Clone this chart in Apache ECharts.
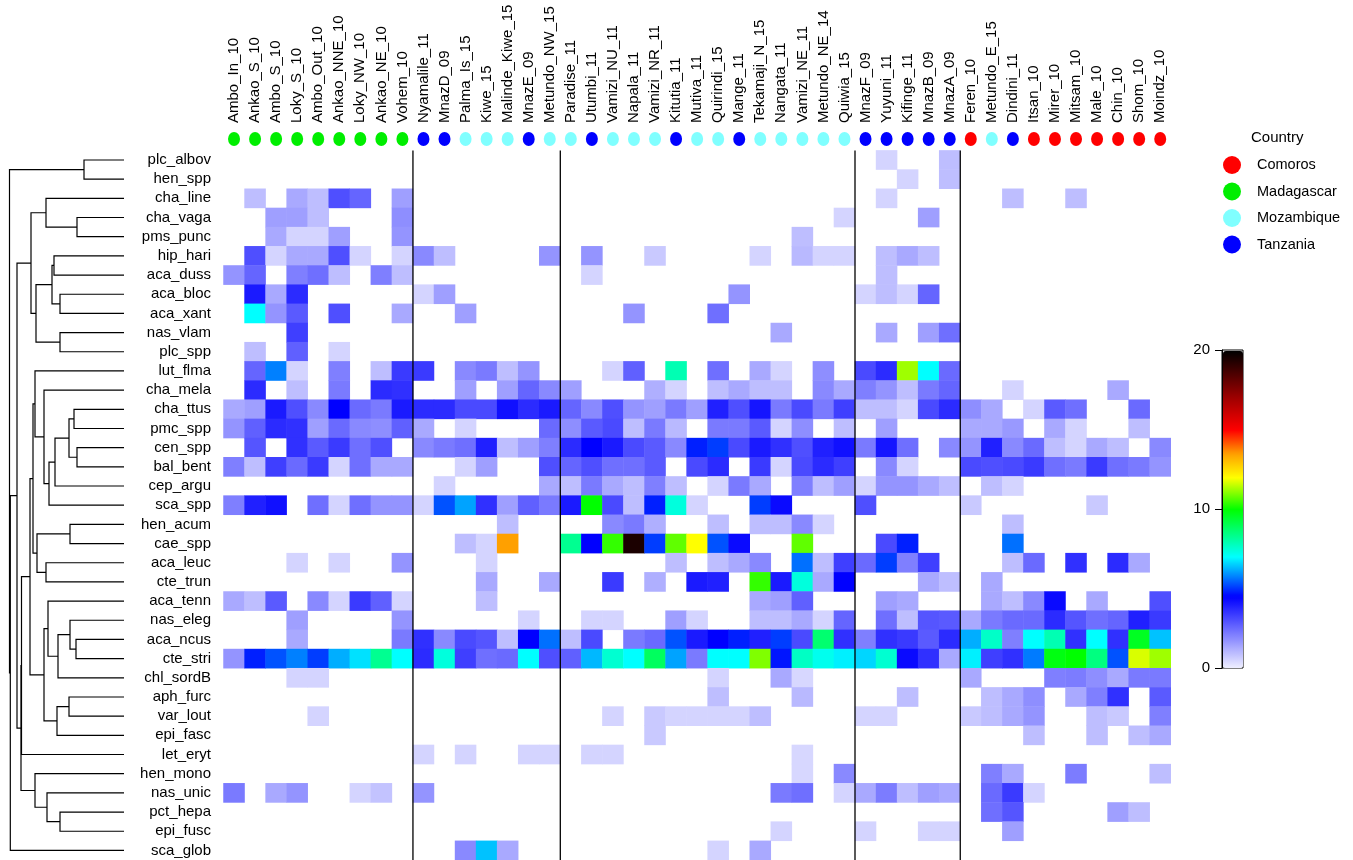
<!DOCTYPE html>
<html>
<head>
<meta charset="utf-8">
<script src="https://cdn.jsdelivr.net/npm/echarts@6/dist/echarts.min.js"></script>
<style>
html, body { margin: 0; padding: 0; background: #fff; }
#chart { width: 1353px; height: 860px; }
</style>
</head>
<body>
<div id="chart"></div>
<script>
// sites (columns) and the country of each
const sites = ['Ambo_In_10','Ankao_S_10','Ambo_S_10','Loky_S_10','Ambo_Out_10','Ankao_NNE_10','Loky_NW_10','Ankao_NE_10','Vohem_10',
  'Nyamalile_11','MnazD_09','Palma_Is_15','Kiwe_15','Malinde_Kiwe_15','MnazE_09','Metundo_NW_15',
  'Paradise_11','Utumbi_11','Vamizi_NU_11','Napala_11','Vamizi_NR_11','Kitutia_11','Mutiva_11','Quirindi_15','Mange_11','Tekamaji_N_15','Nangata_11','Vamizi_NE_11','Metundo_NE_14','Quiwia_15',
  'MnazF_09','Yuyuni_11','Kifinge_11','MnazB_09','MnazA_09','Feren_10','Metundo_E_15','Dindini_11','Itsan_10','Mirer_10','Mitsam_10','Male_10','Chin_10','Shom_10','Moindz_10'];
const siteCountry = ['MD','MD','MD','MD','MD','MD','MD','MD','MD',
  'TZ','TZ','MZ','MZ','MZ','TZ','MZ',
  'MZ','TZ','MZ','MZ','MZ','TZ','MZ','MZ','TZ','MZ','MZ','MZ','MZ','MZ',
  'TZ','TZ','TZ','TZ','TZ','KM','MZ','TZ','KM','KM','KM','KM','KM','KM','KM'];
const countryCodes = ['KM','MD','MZ','TZ'];
const countryNames = ['Comoros','Madagascar','Mozambique','Tanzania'];
const countryColors = ['#ff0000','#00ee00','#80ffff','#0000ff'];
// vertical separators after these column counts
const groupBreaks = [9, 16, 30, 35];

const species = ['plc_albov','hen_spp','cha_line','cha_vaga','pms_punc','hip_hari','aca_duss','aca_bloc','aca_xant','nas_vlam','plc_spp',
  'lut_flma','cha_mela','cha_ttus','pmc_spp','cen_spp','bal_bent','cep_argu','sca_spp','hen_acum','cae_spp','aca_leuc','cte_trun',
  'aca_tenn','nas_eleg','aca_ncus','cte_stri','chl_sordB','aph_furc','var_lout','epi_fasc','let_eryt','hen_mono','nas_unic','pct_hepa','epi_fusc','sca_glob'];

// one row per species, one value per site (0 = empty cell)
const values = [
  [0,0,0,0,0,0,0,0,0, 0,0,0,0,0,0,0, 0,0,0,0,0,0,0,0,0,0,0,0,0,0, 0,0.5,0,0,0.9,0,0,0,0,0,0,0,0,0,0],
  [0,0,0,0,0,0,0,0,0, 0,0,0,0,0,0,0, 0,0,0,0,0,0,0,0,0,0,0,0,0,0, 0,0,0.5,0,0.9,0,0,0,0,0,0,0,0,0,0],
  [0,0.9,0,1.3,0.9,3,2.6,0,1.5, 0,0,0,0,0,0,0, 0,0,0,0,0,0,0,0,0,0,0,0,0,0, 0,0.5,0,0,0,0,0,0.9,0,0,0.9,0,0,0,0],
  [0,0,1.5,1.5,0.9,0,0,0,1.8, 0,0,0,0,0,0,0, 0,0,0,0,0,0,0,0,0,0,0,0,0,0.5, 0,0,0,1.5,0,0,0,0,0,0,0,0,0,0,0],
  [0,0,1.3,0.5,0.5,1.5,0,0,1.7, 0,0,0,0,0,0,0, 0,0,0,0,0,0,0,0,0,0,0,0.9,0,0, 0,0,0,0,0,0,0,0,0,0,0,0,0,0,0],
  [0,3,0.5,1.3,1.3,3,0.5,0,0.5, 1.9,0.9,0,0,0,0,1.7, 0,1.7,0,0,0.7,0,0,0,0,0.5,0,1,0.5,0.5, 0,0.9,1.3,0.9,0,0,0,0,0,0,0,0,0,0,0],
  [1.7,2.6,0,2.1,2.4,0.9,0,2.1,0.9, 0,0,0,0,0,0,0, 0,0.5,0,0,0,0,0,0,0,0,0,0,0,0, 0,0.9,0,0,0,0,0,0,0,0,0,0,0,0,0],
  [0,4,1.3,3.7,0,0,0,0,0, 0.5,1.5,0,0,0,0,0, 0,0,0,0,0,0,0,0,1.7,0,0,0,0,0, 0.5,0.9,0.5,2.6,0,0,0,0,0,0,0,0,0,0,0],
  [0,7,1.7,2.8,0,3,0,0,1.3, 0,0,1.5,0,0,0,0, 0,0,0,1.7,0,0,0,2.4,0,0,0,0,0,0, 0,0,0,0,0,0,0,0,0,0,0,0,0,0,0],
  [0,0,0,3.3,0,0,0,0,0, 0,0,0,0,0,0,0, 0,0,0,0,0,0,0,0,0,0,1.3,0,0,0, 0,1.3,0,1.5,2.4,0,0,0,0,0,0,0,0,0,0],
  [0,0.9,0,2.7,0,0.5,0,0,0, 0,0,0,0,0,0,0, 0,0,0,0,0,0,0,0,0,0,0,0,0,0, 0,0,0,0,0,0,0,0,0,0,0,0,0,0,0],
  [0,2.6,5.75,0.5,0,2.1,0,0.9,3.4, 3.4,0,1.9,2.2,0.9,1.7,0, 0,0,0.5,2.7,0,7.9,0,2.4,0,1.3,0.5,0,1.8,0, 3.1,3.7,11.25,7,2.5,0,0,0,0,0,0,0,0,0,0],
  [0,3.7,0,0.9,0,2.2,0,3.7,3.6, 0,0,1.5,0,1.5,2.6,1.9, 1.5,0,0,0,1.2,0.5,0,0.9,1.3,0.9,0.9,0,1.9,1.3, 2.1,1.7,0.9,2.2,2.6,0,0,0.5,0,0,0,0,1.3,0,0],
  [1.3,1.5,4,3,1.9,4.5,2.5,2.2,4, 3.7,3.7,3.1,3.1,4.2,3.7,4, 2.6,1.9,3,1.7,1.5,2.2,1.5,3.9,3,4.1,2.2,3.1,2.2,3.3, 0.9,0.9,0.5,3.1,3.7,1.8,1.3,0,0.5,2.8,2.4,0,0,2.5,0],
  [1.7,2.7,3.7,3.6,1.5,2.5,1.9,1.8,2.7, 1.3,0,0.5,0,0,0,2.5, 1.8,2.8,3.1,0.9,2.2,1,0,2.2,2.2,2.8,0.5,1.8,0,0.9, 0,1.5,0,0,0,1.3,1.3,1.6,0,1.3,0.5,0,0,0.9,0],
  [0,2.9,0,3.6,2.8,3.4,2.4,3,0, 1.9,2.2,2.4,3.9,0.9,1.5,2.1, 3.7,4.5,4,3.1,2.8,1.9,4.8,5.1,3.1,4,3.6,3,3.9,4.2, 2.2,4.1,2.4,0,1.9,1.7,3.9,1.9,2.5,0.9,0.5,1.3,0.9,0,1.9],
  [2.1,0.9,3.3,2.5,3.4,0.5,2.4,1.3,1.3, 0,0,0.5,1.5,0,0,3, 2.6,3,2.4,2.4,2.8,0,3.1,3.7,0,3.4,0.5,3.1,3.7,3.3, 0,1.9,0.5,0,0,3.1,3,3.1,3.4,2.4,2.2,3.4,2.4,2.2,1.7],
  [0,0,0,0,0,0,0,0,0, 0,0.5,0,0,0,0,1.3, 0.9,2.2,1.3,0.9,2.1,0.9,0,0.5,2.2,1.3,0,2.1,0.9,1.5, 0.5,1.7,1.7,1.3,0.9,0,0.9,0.5,0,0,0,0,0,0,0],
  [2.1,3.9,4.2,0,2.4,0.5,2.4,1.7,1.7, 0.5,5.3,6.1,3.6,1.5,2.7,2.2, 4,10,3.1,0.9,4.8,7.4,0.5,0,0,5.1,4.3,0,0,0, 3,0,0,0,0,0.7,0,0,0,0,0,0.7,0,0,0],
  [0,0,0,0,0,0,0,0,0, 0,0,0,0,0.9,0,0, 0,0,1.9,2.2,1.2,0,0,0.9,0,0.9,0.9,1.9,0.5,0, 0,0,0,0,0,0,0,0.9,0,0,0,0,0,0,0],
  [0,0,0,0,0,0,0,0,0, 0,0,0.9,0.5,13.5,0,0, 8.3,4.5,10.4,19.5,5.1,10.75,12,5.3,4.3,0,0,10.75,0,0, 0,3.1,4.8,0,0,0,0,5.6,0,0,0,0,0,0,0],
  [0,0,0,0.5,0,0.5,0,0,1.7, 0,0,0,0.5,0,0,0, 0,0,0,0,0,0.9,0,0.9,1.3,1.9,0,5.6,0.9,3.3, 2.5,5.1,2.1,3.3,0,0,0,0.9,2.5,0,3.6,0,3.7,1.3,0],
  [0,0,0,0,0,0,0,0,0, 0,0,0,1.3,0,0,1.3, 0,0,3.4,0,1.2,0,4,3.9,0,10.4,4,7.4,1.3,4.5, 0,0,0,1.3,0.9,0,1.3,0,0,0,0,0,0,0,0],
  [1.3,0.9,2.8,0,1.9,0.5,3.4,2.7,0.5, 0,0,0,0.9,0,0,0, 0,0,0,0,0,0,0,0,0,1.3,1.5,2.7,0,0, 0,1.5,1.3,0,0,0,1.3,0.9,1.9,4.3,0,1.3,0,0,3],
  [0,0,0,1.5,0,0,0,0,1.7, 0,0,0,0,0,0.5,0, 0,0.5,0.5,0,0,1.5,0.5,0,0,0.9,0.9,1.3,0.5,2.6, 0,2.4,0.9,2.9,2.8,1.3,2.2,2.5,2.5,3.7,2.9,2.4,2.6,3.9,3.4],
  [0,0,0,1.3,0,0,0,0,2.2, 3.6,1.9,3.1,2.9,0.9,4.5,5.6, 0.9,3.1,0,2.2,2.5,5.3,4,4.5,4.8,3.9,5.1,3.1,8.7,3.6, 2.1,3.6,3.4,2.8,3.7,6.2,7.65,2.1,7,7.9,3.6,7,3.6,9.6,6.4],
  [1.7,4.8,5.3,5.75,5.1,6.2,6.7,8.3,7, 3.7,7.4,3.3,2.4,2.5,7,3, 2.7,6.3,7.55,7,8.9,6.1,2.2,7,7,11,4.7,7.7,7.2,6.85, 6.6,7.55,4.3,3.6,1.3,6.85,3.3,3.6,5.7,9.8,10,8.5,5.3,11.7,11.25],
  [0,0,0,0.5,0.5,0,0,0,0, 0,0,0,0,0,0,0, 0,0,0,0,0,0,0,0.5,0,0,1.3,0.45,0,0, 0,0,0,0,0,1.3,0,0,0,2.1,2.15,1.8,1.3,2.2,2.2],
  [0,0,0,0,0,0,0,0,0, 0,0,0,0,0,0,0, 0,0,0,0,0,0,0,0.9,0,0,0,1,0,0, 0,0,0.9,0,0,0,0.9,1.3,1.8,0,1.3,2.1,3.6,0,2.8],
  [0,0,0,0,0.5,0,0,0,0, 0,0,0,0,0,0,0, 0,0,0.5,0,0.7,0.5,0.5,0.5,0.5,0.9,0,0,0,0, 0.5,0.5,0,0,0,0.7,0.9,1.3,1.7,0,0,0.9,0.7,0,2.1],
  [0,0,0,0,0,0,0,0,0, 0,0,0,0,0,0,0, 0,0,0,0,0.7,0,0,0,0,0,0,0,0,0, 0,0,0,0,0,0,0,0,0.9,0,0,0.9,0,0.9,1.3],
  [0,0,0,0,0,0,0,0,0, 0.5,0,0.5,0,0,0.5,0.5, 0,0.5,0.5,0,0,0,0,0,0,0,0,0.45,0,0, 0,0,0,0,0,0,0,0,0,0,0,0,0,0,0],
  [0,0,0,0,0,0,0,0,0, 0,0,0,0,0,0,0, 0,0,0,0,0,0,0,0,0,0,0,0.45,0,1.9, 0,0,0,0,0,0,2.1,1.3,0,0,2.15,0,0,0,0.9],
  [2.2,0,1.3,1.7,0,0,0.5,0.8,0, 1.7,0,0,0,0,0,0, 0,0,0,0,0,0,0,0,0,0,2.2,2.4,0,0.5, 1.3,2.15,0.9,1.5,1.3,0,2.5,3.4,0.5,0,0,0,0,0,0],
  [0,0,0,0,0,0,0,0,0, 0,0,0,0,0,0,0, 0,0,0,0,0,0,0,0,0,0,0,0,0,0, 0,0,0,0,0,0,2.4,2.9,0,0,0,0,1.5,0.9,0],
  [0,0,0,0,0,0,0,0,0, 0,0,0,0,0,0,0, 0,0,0,0,0,0,0,0,0,0,0.5,0,0,0, 0.5,0,0,0.5,0.5,0,0,1.5,0,0,0,0,0,0,0],
  [0,0,0,0,0,0,0,0,0, 0,0,1.9,6.4,1.3,0,0, 0,0,0,0,0,0,0,0.5,0,1.3,0,0,0,0, 0,0,0,0,0,0,0,0,0,0,0,0,0,0,0]
];

// row dendrogram: [child A, child B, height]; ids 0..36 are species, 37.. are merges in order
const merges = [
  [0, 1, 0.40],    // 37
  [3, 4, 0.47],    // 38
  [2, 38, 0.78],   // 39
  [5, 6, 0.70],    // 40
  [7, 8, 0.64],    // 41
  [40, 41, 0.72],  // 42
  [9, 10, 0.64],   // 43
  [42, 43, 0.88],  // 44
  [39, 44, 0.93],  // 45
  [13, 14, 0.50],  // 46
  [15, 16, 0.47],  // 47
  [46, 47, 0.55],  // 48
  [17, 48, 0.69],  // 49
  [18, 49, 0.75],  // 50
  [12, 50, 0.80],  // 51
  [11, 51, 0.89],  // 52
  [19, 20, 0.54],  // 53
  [21, 22, 0.78],  // 54
  [53, 54, 0.87],  // 55
  [52, 55, 0.91],  // 56
  [25, 26, 0.48],  // 57
  [24, 57, 0.54],  // 58
  [58, 27, 0.66],  // 59
  [23, 59, 0.76],  // 60
  [28, 29, 0.55],  // 61
  [61, 30, 0.67],  // 62
  [60, 62, 0.80],  // 63
  [56, 63, 0.94],  // 64
  [64, 31, 1.025], // 65
  [34, 35, 0.64],  // 66
  [33, 66, 0.77],  // 67
  [32, 67, 0.89],  // 68
  [65, 68, 1.03],  // 69
  [45, 69, 1.07],  // 70
  [70, 36, 1.137], // 71
  [37, 71, 1.145]  // 72
];

const colorTicks = [0, 10, 20];

// colour ramp of the scale
const rampStops = [[0,'#eeeeff'],[4.5,'#0000ff'],[7,'#00ffff'],[8.5,'#00ff80'],[10,'#00ff00'],
  [12,'#ffff00'],[13.5,'#ffa000'],[15,'#ff0000'],[17,'#a00000'],[20,'#000000']];

function hexRgb(h) {
  return [parseInt(h.slice(1,3),16), parseInt(h.slice(3,5),16), parseInt(h.slice(5,7),16)];
}
function rampColor(v) {
  for (let i = 1; i < rampStops.length; i++) {
    const [v1, c1] = rampStops[i];
    const [v0, c0] = rampStops[i-1];
    if (v <= v1) {
      const t = (v - v0) / (v1 - v0);
      const a = hexRgb(c0), b = hexRgb(c1);
      return 'rgb(' + a.map((x, k) => Math.round(x + (b[k] - x) * t)).join(',') + ')';
    }
  }
  return rampStops[rampStops.length-1][1];
}
const ramp = [];
for (let i = 0; i <= 80; i++) ramp.push(rampColor(i * 0.25));

// heatmap cells
const cells = [];
values.forEach((row, r) => {
  row.forEach((v, c) => { if (v > 0) cells.push([c, r, v]); });
});

// dendrogram segments
const nodeH = [], nodeY = [];
species.forEach((s, i) => { nodeH[i] = 0; nodeY[i] = i; });
const dendroLines = merges.map(([a, b, h], k) => {
  const id = species.length + k;
  nodeH[id] = h;
  nodeY[id] = (nodeY[a] + nodeY[b]) / 2;
  return { coords: [[nodeH[a], nodeY[a]], [h, nodeY[a]], [h, nodeY[b]], [nodeH[b], nodeY[b]]] };
});
const rootH = merges[merges.length-1][2];

const sepLines = groupBreaks.map(b => ({ coords: [[b, 0], [b, 1]] }));

const FONT = 'Liberation Sans, Arial, sans-serif';
const cellW = 21.05, cellH = 19.25;
const hmLeft = 223.5, hmTop = 150.4;
const hmW = cellW * sites.length, hmH = cellH * species.length;

const dotSeries = countryCodes.map((code, k) => ({
  name: countryNames[k],
  type: 'scatter',
  xAxisIndex: 2, yAxisIndex: 2,
  symbol: 'circle',
  symbolSize: [12, 14],
  itemStyle: { color: countryColors[k], opacity: 1 },
  silent: true,
  data: siteCountry.map((c, i) => c === code ? [i, 0] : null).filter(d => d)
}));

const chart = echarts.init(document.getElementById('chart'), null, { renderer: 'canvas' });

chart.setOption({
  animation: false,
  backgroundColor: '#fff',
  textStyle: { fontFamily: FONT },
  title: {
    text: 'Country',
    left: 1251, top: 130,
    padding: 0,
    textStyle: { fontFamily: FONT, fontSize: 15, fontWeight: 'normal', color: '#000' }
  },
  legend: {
    data: countryNames,
    orient: 'vertical',
    left: 1223, top: 156,
    padding: 0,
    icon: 'circle',
    itemWidth: 18, itemHeight: 18,
    itemGap: 8.5,
    selectedMode: false,
    itemStyle: { opacity: 1 },
    textStyle: { fontFamily: FONT, fontSize: 14.5, color: '#000', padding: [0, 0, 0, 11], lineHeight: 18 }
  },
  grid: [
    { left: hmLeft, top: hmTop, width: hmW, height: hmH },
    { left: hmLeft, top: 128, width: hmW, height: 22 },
    { left: 9.5, top: hmTop, width: 124 - 9.5, height: hmH },
    { left: 1222, top: 350, width: 21, height: 318, show: true, borderColor: '#000', borderWidth: 1, backgroundColor: 'transparent' }
  ],
  xAxis: [
    { type: 'category', data: sites, gridIndex: 0, show: false },
    { type: 'value', gridIndex: 0, min: 0, max: sites.length, show: false },
    { type: 'category', data: sites, gridIndex: 1, position: 'top',
      axisLine: { show: false }, axisTick: { show: false },
      axisLabel: { rotate: 90, margin: 5, interval: 0, fontFamily: FONT, fontSize: 15, color: '#000' } },
    { type: 'value', gridIndex: 2, min: 0, max: rootH, inverse: true, show: false },
    { type: 'value', gridIndex: 3, min: 0, max: 1, show: false }
  ],
  yAxis: [
    { type: 'category', data: species, gridIndex: 0, inverse: true,
      axisLine: { show: false }, axisTick: { show: false },
      axisLabel: { margin: 12.5, interval: 0, fontFamily: FONT, fontSize: 15, color: '#000' } },
    { type: 'value', gridIndex: 0, min: 0, max: 1, show: false },
    { type: 'value', gridIndex: 1, min: -1, max: 1, show: false },
    { type: 'value', gridIndex: 2, min: -0.5, max: species.length - 0.5, inverse: true, show: false },
    { type: 'value', gridIndex: 3, min: 0, max: 20, interval: 10, position: 'left',
      splitLine: { show: false },
      axisLine: { show: true, lineStyle: { color: '#000', width: 1 } },
      axisTick: { show: true, length: 7, lineStyle: { color: '#000' } },
      axisLabel: { margin: 12, fontFamily: FONT, fontSize: 15, color: '#000' } }
  ],
  visualMap: {
    type: 'continuous',
    seriesIndex: 0,
    min: 0, max: 20,
    left: 1223, top: 351,
    padding: 0,
    itemWidth: 20, itemHeight: 317,
    calculable: false,
    showLabel: false,
    text: null,
    inRange: { color: ramp }
  },
  series: [
    {
      type: 'heatmap',
      xAxisIndex: 0, yAxisIndex: 0,
      data: cells,
      progressive: 0,
      silent: true,
      itemStyle: { borderWidth: 0 }
    },
    {
      type: 'lines',
      coordinateSystem: 'cartesian2d',
      xAxisIndex: 1, yAxisIndex: 1,
      polyline: true,
      silent: true,
      lineStyle: { color: '#000', width: 1.3, opacity: 1 },
      data: sepLines
    },
    ...dotSeries,
    {
      type: 'lines',
      coordinateSystem: 'cartesian2d',
      xAxisIndex: 3, yAxisIndex: 3,
      polyline: true,
      silent: true,
      lineStyle: { color: '#000', width: 1.2, opacity: 1, curveness: 0 },
      data: dendroLines
    },
    {
      type: 'scatter',
      xAxisIndex: 4, yAxisIndex: 4,
      data: [],
      silent: true
    }
  ]
});
</script>
</body>
</html>
